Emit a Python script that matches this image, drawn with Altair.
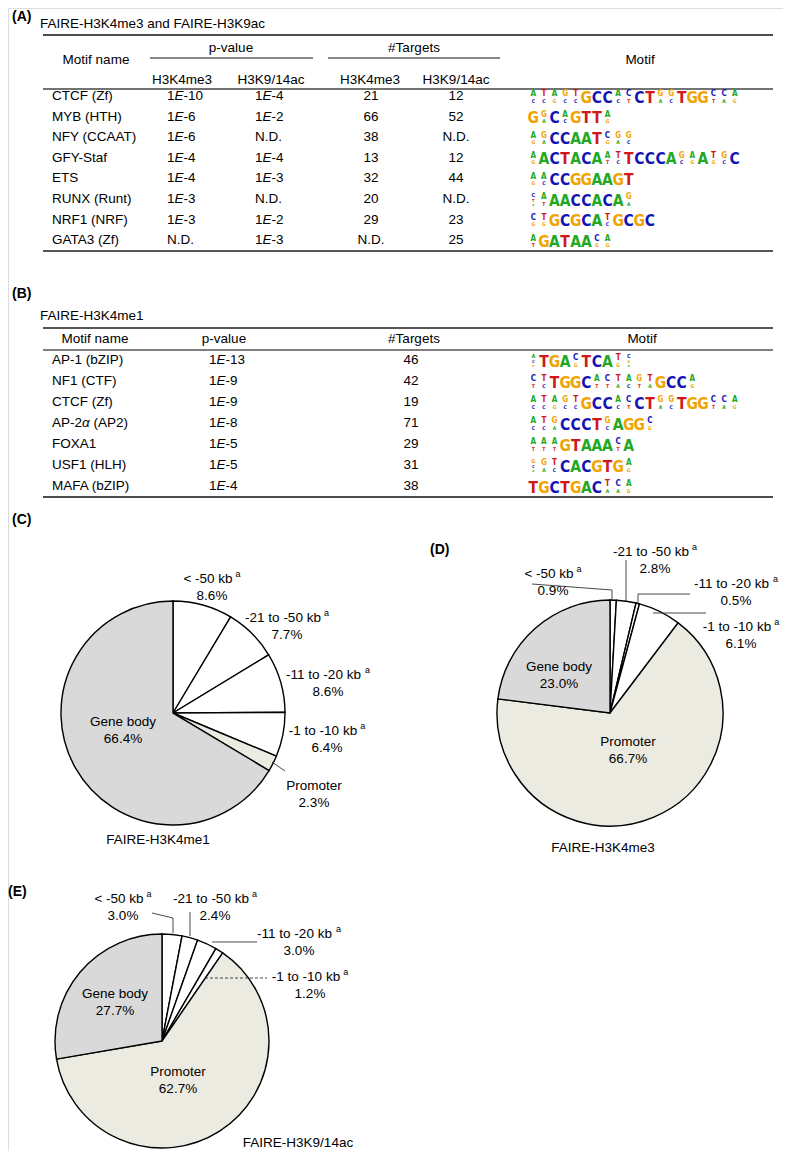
import altair as alt
import pandas as pd

FONT = "Liberation Sans"
LOGO_FONT = "Liberation Sans Narrow, DejaVu Sans Condensed, Liberation Sans"
FS = 13.5

# ---------------- data ----------------
tableA_title = "FAIRE-H3K4me3 and FAIRE-H3K9ac"
tableA_names = ["CTCF (Zf)", "MYB (HTH)", "NFY (CCAAT)", "GFY-Staf", "ETS",
                "RUNX (Runt)", "NRF1 (NRF)", "GATA3 (Zf)"]
tableA_p_k4me3 = ["1E-10", "1E-6", "1E-6", "1E-4", "1E-4", "1E-3", "1E-3", "N.D."]
tableA_p_k9 = ["1E-4", "1E-2", "N.D.", "1E-4", "1E-3", "N.D.", "1E-2", "1E-3"]
tableA_t_k4me3 = ["21", "66", "38", "13", "32", "20", "29", "N.D."]
tableA_t_k9 = ["12", "52", "N.D.", "12", "44", "N.D.", "23", "25"]

CTCF_LOGO = ["AC", "TC", "AG", "GC", "TC", "G", "C", "C", "AC", "CT", "C", "T",
             "GA", "GC", "T", "G", "G", "CT", "CA", "AG"]
tableA_motifs = [
    CTCF_LOGO,
    ["G", "GA", "C", "AC", "G", "T", "T", "AG"],
    ["AG", "GA", "C", "C", "A", "A", "T", "CG", "GA", "GC"],
    ["AG", "A", "C", "T", "A", "C", "A", "AT", "TC", "T", "C", "C", "C", "A",
     "GC", "AG", "A", "TG", "GC", "C"],
    ["AG", "AC", "C", "C", "G", "G", "A", "A", "G", "T"],
    ["CTA", "AT", "A", "A", "C", "C", "A", "C", "A", "GA"],
    ["CG", "TG", "G", "C", "G", "C", "A", "TC", "G", "C", "G", "C"],
    ["AT", "G", "A", "T", "A", "A", "CG", "AG"],
]

tableB_title = "FAIRE-H3K4me1"
tableB_names = ["AP-1 (bZIP)", "NF1 (CTF)", "CTCF (Zf)", "AP-2\u03b1 (AP2)", "FOXA1",
                "USF1 (HLH)", "MAFA (bZIP)"]
tableB_p = ["1E-13", "1E-9", "1E-9", "1E-8", "1E-5", "1E-5", "1E-4"]
tableB_t = ["46", "42", "19", "71", "29", "31", "38"]
tableB_motifs = [
    ["ACG", "T", "G", "A", "CG", "T", "C", "A", "TG", "CGA"],
    ["CT", "TC", "T", "G", "G", "C", "AT", "CT", "TA", "AC", "GT", "TA", "G", "C", "C", "AG"],
    CTCF_LOGO,
    ["AC", "TC", "GA", "C", "C", "C", "T", "GC", "A", "G", "G", "CG"],
    ["AT", "AT", "AT", "G", "T", "A", "A", "A", "CT", "A"],
    ["GCA", "GA", "TC", "C", "A", "C", "G", "T", "G", "AG"],
    ["T", "G", "C", "T", "G", "A", "C", "TA", "CA", "AG"],
]

pie_categories = ["< -50 kb", "-21 to -50 kb", "-11 to -20 kb", "-1 to -10 kb",
                  "Promoter", "Gene body"]
pieC_values = [8.6, 7.7, 8.6, 6.4, 2.3, 66.4]
pieD_values = [0.9, 2.8, 0.5, 6.1, 66.7, 23.0]
pieE_values = [3.0, 2.4, 3.0, 1.2, 62.7, 27.7]
pie_titles = ["FAIRE-H3K4me1", "FAIRE-H3K4me3", "FAIRE-H3K9/14ac"]

# ---------------- styles / layout ----------------
LETTER_COLORS = {"A": "#22a822", "C": "#1414b4", "G": "#f0a400", "T": "#d01818"}
SLICE_FILLS = ["#ffffff", "#ffffff", "#ffffff", "#ffffff", "#ecebe1", "#d9d9d9"]

W = {" ": 278, "(": 333, ")": 333, "-": 333, ".": 278, "/": 278, "<": 584, "%": 889,
     "#": 556, "\u03b1": 580, "a": 556, "b": 556, "c": 500, "d": 556, "e": 556, "f": 278,
     "g": 556, "h": 556, "i": 222, "k": 500, "l": 222, "m": 833, "n": 556, "o": 556,
     "p": 556, "r": 333, "s": 500, "t": 278, "u": 556, "v": 500, "y": 500,
     "A": 667, "B": 667, "C": 722, "D": 722, "E": 667, "F": 611, "G": 778, "H": 722,
     "I": 278, "K": 667, "L": 556, "M": 833, "N": 722, "O": 778, "P": 667, "R": 722,
     "S": 667, "T": 611, "U": 722, "X": 667, "Y": 667, "Z": 611}


def tw(s, size=FS):
    return sum(W.get(c, 556) for c in s) * size / 1000.0


center_rows, left_rows, italic_rows, bold_rows, logo_rows = [], [], [], [], []
rule_rows, dash_rows = [], []


def put(rows, x, y, text, size=FS, color="black"):
    rows.append(dict(x=x, y=y, text=text, size=size, color=color))


def rule(x, y, x2, y2, w=1.0, color="black", dashed=False):
    (dash_rows if dashed else rule_rows).append(dict(x=x, y=y, x2=x2, y2=y2, w=w, color=color))


def pval(x0, y, s):
    """left aligned p-value with italic E"""
    if "E" not in s:
        put(left_rows, x0, y, s)
        return
    a, b = s.split("E")
    put(left_rows, x0, y, a)
    put(italic_rows, x0 + tw(a), y, "E")
    put(left_rows, x0 + tw(a) + tw("E"), y, b)


def name(x0, y, s):
    if "\u03b1" in s:
        a, b = s.split("\u03b1")
        put(left_rows, x0, y, a)
        put(italic_rows, x0 + tw(a), y, "\u03b1")
        put(left_rows, x0 + tw(a) + tw("\u03b1") + tw(" "), y, b.strip())
    else:
        put(left_rows, x0, y, s)


def logo(x0, y, cols, pitch=10.6):
    base = y + 6.5
    for k, col in enumerate(cols):
        cx = x0 + pitch * (k + 0.5)
        if len(col) == 1:
            sizes = [15.5]
        elif len(col) == 2:
            sizes = [8.0, 5.0]
        else:
            sizes = [5.5, 4.0, 3.0]
        yb = base
        prev = None
        for letter, sz in reversed(list(zip(col, sizes))):
            if prev is not None:
                yb -= 0.9 * prev + 0.2 * sz
            put(logo_rows, cx, yb, letter, sz, LETTER_COLORS[letter])
            prev = sz


def sup_label(cx, y, main):
    total = tw(main) + 3 + tw("a", 9)
    x0 = cx - total / 2
    put(left_rows, x0, y, main)
    put(left_rows, x0 + tw(main) + 3, y - 5, "a", 9)


# ---- Table A ----
put(bold_rows, 12, 17, "(A)", 14)
put(left_rows, 40, 24, tableA_title)
rule(43, 35, 773, 35, 1.5, "#111")
put(center_rows, 96, 60, "Motif name")
put(center_rows, 231, 48, "p-value")
rule(150, 58, 313, 58, 1.0, "#111")
put(center_rows, 414, 48, "#Targets")
rule(328, 58, 500, 58, 1.0, "#111")
put(center_rows, 640, 60, "Motif")
put(center_rows, 182, 80, "H3K4me3")
put(center_rows, 271, 80, "H3K9/14ac")
put(center_rows, 370, 80, "H3K4me3")
put(center_rows, 456, 80, "H3K9/14ac")
rule(43, 89, 773, 89, 1.3, "#444")
for i in range(len(tableA_names)):
    y = 96 + 20.6 * i
    name(52, y, tableA_names[i])
    pval(167, y, tableA_p_k4me3[i])
    pval(255, y, tableA_p_k9[i])
    put(center_rows, 371, y, tableA_t_k4me3[i])
    put(center_rows, 456, y, tableA_t_k9[i])
    logo(528, y, tableA_motifs[i])
rule(43, 251, 773, 251, 2.0, "#555")

# ---- Table B ----
put(bold_rows, 12, 294, "(B)", 14)
put(left_rows, 40, 316, tableB_title)
rule(43, 328, 773, 328, 2.0, "#555")
put(center_rows, 95, 339, "Motif name")
put(center_rows, 224, 339, "p-value")
put(center_rows, 414, 339, "#Targets")
put(center_rows, 642, 339, "Motif")
rule(43, 350, 773, 350, 1.3, "#555")
for i in range(len(tableB_names)):
    y = 360 + 21 * i
    name(52, y, tableB_names[i])
    pval(209, y, tableB_p[i])
    put(center_rows, 411, y, tableB_t[i])
    logo(528, y, tableB_motifs[i])
rule(43, 497, 773, 497, 1.5, "#111")

# ---- Pies ----
pies = [
    dict(label="(C)", lx=12, ly=520, cx=173, cy=713, r=112, values=pieC_values,
         title=(158, 840),
         pos=[(212, 579), (287, 618), (328, 675), (327, 731), (314, 786), (123, 722)],
         leaders=[(272, 762, 285, 771)], dashed=[]),
    dict(label="(D)", lx=430, ly=550, cx=610, cy=713, r=113, values=pieD_values,
         title=(603, 848),
         pos=[(553, 574), (655, 552), (736, 584), (741, 627), (628, 742), (559, 667)],
         leaders=[(532, 584, 612, 590), (612, 590, 612, 601), (626, 560, 626, 601),
                  (638, 594, 690, 594), (638, 594, 638, 603), (653, 613, 706, 613)],
         dashed=[]),
    dict(label="(E)", lx=8, ly=892, cx=162, cy=1041, r=107, values=pieE_values,
         title=(298, 1143),
         pos=[(123, 899), (215, 899), (299, 934), (310, 977), (178, 1072), (115, 994)],
         leaders=[(152, 913, 173, 918), (173, 918, 173, 933), (190, 912, 190, 936),
                  (212, 942, 257, 942)],
         dashed=[(205, 978, 267, 978)]),
]

arc_layers = []
XS = alt.Scale(domain=[8, 783], nice=False, zero=False)
YS = alt.Scale(domain=[8, 1151], nice=False, zero=False, reverse=True)

for k, p in enumerate(pies):
    put(bold_rows, p["lx"], p["ly"], p["label"], 14)
    put(center_rows, p["title"][0], p["title"][1], pie_titles[k])
    for j, cat in enumerate(pie_categories):
        px, py = p["pos"][j]
        pct = f"{p['values'][j]:.1f}%"
        if j < 4:
            sup_label(px, py, cat)
            put(center_rows, px, py + 17, pct)
        else:
            put(center_rows, px, py, cat)
            put(center_rows, px, py + 17, pct)
    for (a, b, c, d) in p["leaders"]:
        rule(a, b, c, d, 0.9, "#333")
    for (a, b, c, d) in p["dashed"]:
        rule(a, b, c, d, 0.9, "#333", dashed=True)

    df = pd.DataFrame({"cat": pie_categories, "v": p["values"], "i": list(range(6)),
                       "fill": SLICE_FILLS, "cx": p["cx"], "cy": p["cy"]})
    arc_layers.append(
        alt.Chart(df).mark_arc(radius=p["r"], stroke="black", strokeWidth=1.4).encode(
            theta=alt.Theta("v:Q", stack=True),
            order=alt.Order("i:Q"),
            color=alt.Color("fill:N", scale=None),
            x=alt.X("cx:Q", scale=XS, axis=None),
            y=alt.Y("cy:Q", scale=YS, axis=None),
        )
    )


def xy():
    return dict(x=alt.X("x:Q", scale=XS, axis=None), y=alt.Y("y:Q", scale=YS, axis=None))


def text_layer(rows, **mk):
    df = pd.DataFrame(rows)
    return alt.Chart(df).mark_text(font=mk.pop("font", FONT), **mk).encode(
        text="text:N",
        size=alt.Size("size:Q", scale=None),
        color=alt.Color("color:N", scale=None),
        **xy(),
    )


rules = alt.Chart(pd.DataFrame(rule_rows)).mark_rule().encode(
    x2="x2:Q", y2="y2:Q",
    strokeWidth=alt.StrokeWidth("w:Q", scale=None),
    color=alt.Color("color:N", scale=None),
    **xy(),
)
dashes = alt.Chart(pd.DataFrame(dash_rows)).mark_rule(strokeDash=[3, 2]).encode(
    x2="x2:Q", y2="y2:Q",
    strokeWidth=alt.StrokeWidth("w:Q", scale=None),
    color=alt.Color("color:N", scale=None),
    **xy(),
)

layers = arc_layers + [
    rules, dashes,
    text_layer(center_rows, align="center", baseline="middle"),
    text_layer(left_rows, align="left", baseline="middle"),
    text_layer(italic_rows, align="left", baseline="middle", fontStyle="italic"),
    text_layer(bold_rows, align="left", baseline="middle", fontWeight="bold"),
    text_layer(logo_rows, align="center", baseline="alphabetic", fontWeight="bold",
               font=LOGO_FONT),
]

chart = alt.layer(*layers).properties(
    width=775, height=1143, padding=0, autosize=alt.AutoSizeParams(type="none")
).configure_view(strokeWidth=0).configure(background="white")

chart.save("out.html", embed_options={"renderer": "svg", "actions": False})
